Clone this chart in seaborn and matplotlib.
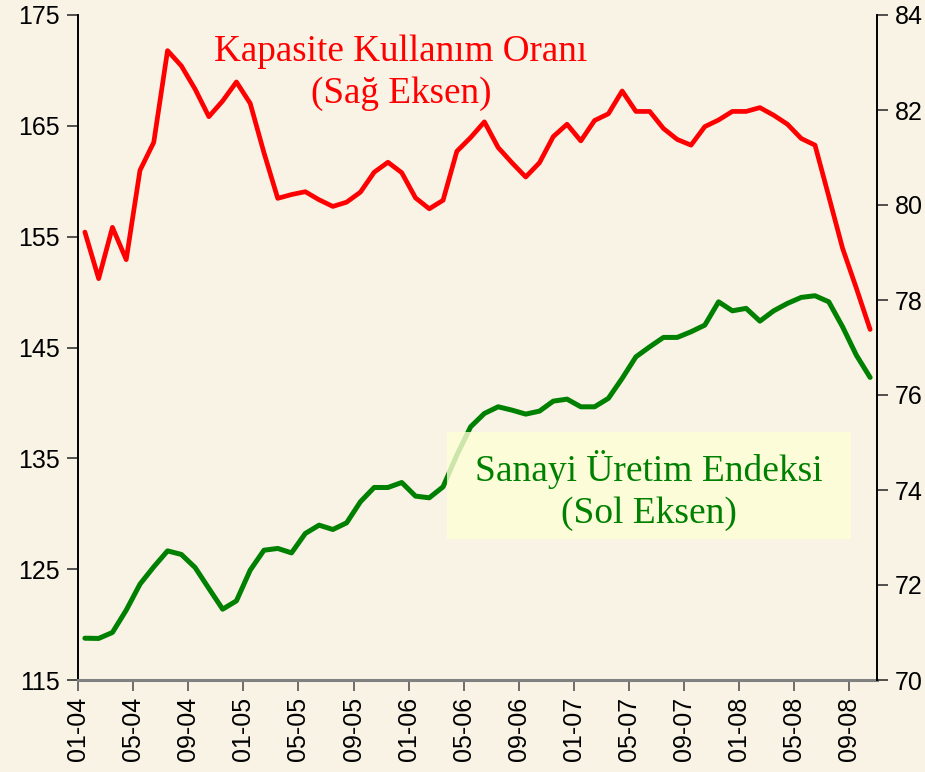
import matplotlib
matplotlib.use("Agg")
import matplotlib.pyplot as plt
from matplotlib.patches import Rectangle
import seaborn as sns

# monthly data, 01-2004 .. 10-2008
months = list(range(58))
tick_labels = ['01-04', '05-04', '09-04', '01-05', '05-05', '09-05', '01-06', '05-06',
               '09-06', '01-07', '05-07', '09-07', '01-08', '05-08', '09-08']

# Kapasite Kullanim Orani (right axis)
kko = [79.43, 78.45, 79.53, 78.85, 80.73, 81.32, 83.25, 82.93, 82.44, 81.86,
       82.19, 82.59, 82.14, 81.10, 80.14, 80.22, 80.28, 80.11, 79.97, 80.06,
       80.27, 80.69, 80.90, 80.68, 80.15, 79.92, 80.10, 81.13, 81.42, 81.75,
       81.21, 80.89, 80.59, 80.89, 81.44, 81.70, 81.35, 81.78, 81.92, 82.40,
       81.97, 81.97, 81.61, 81.38, 81.26, 81.65, 81.79, 81.97, 81.97, 82.05,
       81.89, 81.70, 81.40, 81.26, 80.18, 79.09, 78.25, 77.38]

# Sanayi Uretim Endeksi (left axis)
sue = [118.77, 118.75, 119.29, 121.30, 123.65, 125.21, 126.65, 126.33, 125.15, 123.26,
       121.39, 122.14, 124.91, 126.71, 126.87, 126.47, 128.22, 128.97, 128.58, 129.18,
       131.08, 132.37, 132.37, 132.82, 131.59, 131.44, 132.43, 135.29, 137.84, 139.05,
       139.65, 139.35, 138.99, 139.26, 140.16, 140.34, 139.65, 139.65, 140.41, 142.21,
       144.16, 145.06, 145.91, 145.91, 146.42, 147.02, 149.12, 148.31, 148.53, 147.38,
       148.31, 148.98, 149.52, 149.67, 149.12, 146.87, 144.31, 142.30]

bg = '#F9F3E6'

sns.set_theme(style='ticks')
plt.rcParams['font.family'] = ['Liberation Sans Narrow', 'Liberation Sans', 'DejaVu Sans']

fig = plt.figure(figsize=(9.25, 7.72), dpi=100, facecolor=bg)
ax = fig.add_axes([78 / 925, 92 / 772, 799 / 925, 665 / 772])
ax.set_facecolor(bg)

sns.lineplot(x=months, y=sue, ax=ax, color='#008000', lw=3.6, zorder=3)
ax.set_ylim(115, 175)
ax.set_yticks(range(115, 176, 10))
ax.set_xlim(-0.5, 57.5)
ax.set_xticks([-0.5 + 4 * k for k in range(len(tick_labels))])
ax.set_xticklabels(tick_labels, rotation=90, ha='center', va='top')

ax2 = ax.twinx()
sns.lineplot(x=months, y=kko, ax=ax2, color='#FF0000', lw=3.4, zorder=3)
ax2.set_ylim(70, 84)
ax2.set_yticks(range(70, 85, 2))
ax2.set_xlim(-0.5, 57.5)

for a in (ax, ax2):
    a.spines['top'].set_visible(False)
    a.tick_params(labelsize=18, length=8, width=1.2, colors='#333333', labelcolor='black')
    a.set_xlabel('')
    a.set_ylabel('')
ax.spines['right'].set_visible(False)
ax2.spines['left'].set_visible(False)
ax2.spines['bottom'].set_visible(False)
ax.spines['left'].set_color('black')
ax.spines['left'].set_linewidth(1.4)
ax2.spines['right'].set_color('black')
ax2.spines['right'].set_linewidth(1.4)
ax.spines['bottom'].set_color('#808080')
ax.spines['bottom'].set_linewidth(2.2)
ax.tick_params(axis='x', colors='#555555', labelcolor='black', pad=4)
ax.tick_params(axis='y', pad=5)
ax2.tick_params(axis='y', pad=5)

# labels
ax2.text(0.404, 0.913, 'Kapasite Kullanım Oranı\n(Sağ Eksen)', transform=ax2.transAxes,
         ha='center', va='center', color='#FF0000', fontsize=26.7,
         family='Liberation Serif', linespacing=1.25, zorder=5)

ax2.add_patch(Rectangle((0.462, 0.212), 0.506, 0.161, transform=ax2.transAxes,
                        facecolor='#FFFFD6', edgecolor='none', alpha=0.8, zorder=4))
ax2.text(0.715, 0.285, 'Sanayi Üretim Endeksi\n(Sol Eksen)', transform=ax2.transAxes,
         ha='center', va='center', color='#008000', fontsize=27,
         family='Liberation Serif', linespacing=1.25, zorder=5)

fig.savefig('out.png', dpi=100, facecolor=bg)
